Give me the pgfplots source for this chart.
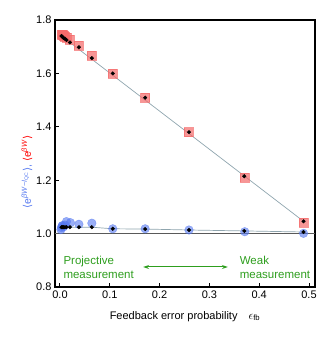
\documentclass[border=0pt]{standalone}
\usepackage{fontspec}
\setmainfont{Liberation Sans}
\newfontfamily\dejavu{DejaVu Sans}
\usepackage{pgfplots}
\pgfplotsset{compat=1.18}
\usetikzlibrary{arrows.meta}
\definecolor{sqred}{HTML}{F46A6A}
\definecolor{dotblue}{HTML}{5578F0}
\definecolor{fitgray}{HTML}{8FA5AE}
\definecolor{txtgreen}{HTML}{2E9E1E}
\begin{document}
\begin{tikzpicture}
\begin{axis}[
scale only axis,
width=260pt, height=267pt,
xmin=-0.01, xmax=0.512,
ymin=0.8, ymax=1.8,
xtick={0,0.1,...,0.5},
ytick={0.8,1.0,...,1.8},
tick align=inside,
xtick pos=bottom, ytick pos=left,
major tick length=4pt,
axis line style={line width=1.6pt},
tick style={line width=1pt, black},
tick label style={font=\fontsize{11}{13}\selectfont},
/pgf/number format/assume math mode=true,
/pgf/number format/.cd, fixed, fixed zerofill, precision=1, /pgfplots/.cd,
xlabel={Feedback error probability\quad {\fontsize{13}{13}\selectfont$\epsilon$}\textsubscript{fb}},
xlabel style={font=\fontsize{11}{13}\selectfont, yshift=-6pt},
ylabel={{\color{dotblue}{\dejavu⟨}e\textsuperscript{\textit{βW}−\textit{I}\textsubscript{QC}}{\dejavu⟩},} {\color{red}{\dejavu⟨}e\textsuperscript{\textit{βW}}{\dejavu⟩}}},
ylabel style={font=\fontsize{10.5}{13}\selectfont, at={(axis description cs:-0.108,0.43)}, anchor=center},
clip=false,
]
% reference line at 1
\addplot[no marks, line width=1.4pt, black!65] coordinates {(-0.01,1.0) (0.512,1.0)};
% upper fit line
\addplot[no marks, fitgray, line width=0.7pt] coordinates {(0.003,1.740) (0.489,1.046)};
% lower fit line
\addplot[no marks, fitgray, line width=0.7pt] coordinates {(0.003,1.024) (0.064,1.024) (0.106,1.018) (0.171,1.017) (0.259,1.0135) (0.370,1.010) (0.489,1.006)};
% red squares
\addplot[only marks, mark=square*, mark size=4.5pt, color=sqred, mark options={draw=sqred, fill=sqred, opacity=0.7}] coordinates {
(0.003,1.745) (0.005,1.745) (0.007,1.742) (0.010,1.738) (0.013,1.735) (0.020,1.727) (0.038,1.703) (0.064,1.666) (0.106,1.600) (0.171,1.509) (0.259,1.380) (0.370,1.211) (0.489,1.041)
};
% blue circles
\addplot[only marks, mark=*, mark size=4.3pt, color=dotblue, mark options={draw=dotblue, fill=dotblue, opacity=0.6}] coordinates {
(0.002,1.015) (0.003,1.022) (0.004,1.028) (0.005,1.030) (0.007,1.025) (0.010,1.032) (0.013,1.045) (0.021,1.041) (0.038,1.035) (0.064,1.039) (0.106,1.018) (0.171,1.018) (0.259,1.0135) (0.371,1.007) (0.489,1.001)
};
% black dots, upper
\addplot[only marks, mark=*, mark size=1.8pt, black] coordinates {
(0.003,1.740) (0.005,1.737) (0.007,1.733) (0.010,1.730) (0.013,1.725) (0.020,1.716) (0.038,1.698) (0.064,1.657) (0.106,1.600) (0.171,1.509) (0.259,1.380) (0.370,1.215) (0.489,1.046)
};
% black dots, lower
\addplot[only marks, mark=*, mark size=1.8pt, black] coordinates {
(0.003,1.024) (0.005,1.024) (0.007,1.024) (0.010,1.024) (0.013,1.024) (0.020,1.024) (0.038,1.024) (0.064,1.024) (0.106,1.018) (0.171,1.017) (0.259,1.0135) (0.370,1.010) (0.489,1.006)
};
% annotation
\addplot[no marks, txtgreen, line width=1pt, {Stealth[length=6pt, width=4pt]}-{Stealth[length=6pt, width=4pt]}] coordinates {(0.167,0.875) (0.337,0.875)};
\node[txtgreen, align=left, anchor=west, font=\fontsize{11.5}{14}\selectfont] at (axis cs:0.0,0.875) {Projective\\measurement};
\node[txtgreen, align=left, anchor=west, font=\fontsize{11.5}{14}\selectfont] at (axis cs:0.354,0.875) {Weak\\measurement};
\end{axis}
\path (current axis.south west) ++(-55pt,-53pt) rectangle ++(332pt,340pt);
\end{tikzpicture}
\end{document}
